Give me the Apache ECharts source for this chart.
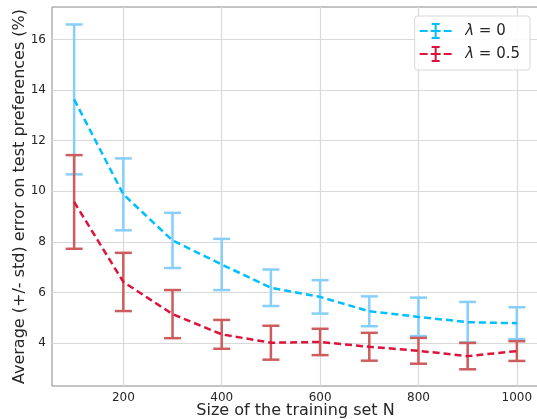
<!DOCTYPE html>
<html>
<head>
<meta charset="utf-8">
<script src="https://cdn.jsdelivr.net/npm/echarts@6/dist/echarts.min.js"></script>
<style>html,body{margin:0;padding:0;background:#fff}#c{width:537px;height:419px}</style>
</head>
<body>
<div id="c"></div>
<script>
const sizes = [100, 200, 300, 400, 500, 600, 700, 800, 900, 1000];
const meanL0 = [13.63, 9.88, 8.06, 7.11, 6.19, 5.83, 5.26, 5.04, 4.83, 4.79];
const stdL0 = [2.96, 1.42, 1.09, 1.01, 0.72, 0.66, 0.59, 0.76, 0.80, 0.63];
const meanL05 = [9.58, 6.42, 5.15, 4.35, 4.02, 4.05, 3.86, 3.70, 3.49, 3.69];
const stdL05 = [1.85, 1.15, 0.95, 0.57, 0.67, 0.52, 0.55, 0.51, 0.52, 0.39];
const xTicks = [200, 400, 600, 800, 1000];
const yTicks = [4, 6, 8, 10, 12, 14, 16];
const names = ['λ = 0', 'λ = 0.5'];

const lineColors = ['#00bfff', '#dc143c'];
const barColors = ['#87cefa', '#cd5c5c'];
const FONT = 'DejaVu Sans';

function errData(means, stds) {
  return sizes.map((x, i) => [x, means[i] - stds[i], means[i] + stds[i]]);
}
function lineData(means) {
  return sizes.map((x, i) => [x, means[i]]);
}
function errSeries(name, data, color) {
  return {
    name: name, type: 'custom', data: data, z: 6,
    encode: { x: 0, y: [1, 2] },
    renderItem: function (params, api) {
      const x = api.value(0), lo = api.value(1), hi = api.value(2);
      const t = api.coord([x, hi]), b = api.coord([x, lo]);
      const h = 8.5;
      const st = { stroke: color, lineWidth: 2.5, fill: null };
      return { type: 'group', children: [
        { type: 'line', shape: { x1: t[0], y1: t[1], x2: b[0], y2: b[1] }, style: st },
        { type: 'line', shape: { x1: t[0] - h, y1: t[1], x2: t[0] + h, y2: t[1] }, style: st },
        { type: 'line', shape: { x1: b[0] - h, y1: b[1], x2: b[0] + h, y2: b[1] }, style: st }
      ]};
    }
  };
}
function lineSeries(name, data, color) {
  return {
    name: name, type: 'line', data: data, z: 7, symbol: 'none',
    lineStyle: { color: color, width: 2.5, type: [7, 4] },
    itemStyle: { color: color }
  };
}
const icon = 'path://M0 7h8v2h-8z M11 7h10v2h-10z M24 7h8v2h-8z M12 0h8v2h-8z M12 14h8v2h-8z M15 0h2v16h-2z';

const gridLines = xTicks.map(v => ({ xAxis: v })).concat(yTicks.map(v => ({ yAxis: v })));

const chart = echarts.init(document.getElementById('c'), null, { renderer: 'canvas' });
chart.setOption({
  animation: false,
  backgroundColor: '#fff',
  grid: { left: 52, right: -2, top: 7, bottom: 33, show: true, borderColor: '#888', borderWidth: 1,
    containLabel: false, outerBoundsMode: 'none' },
  legend: {
    orient: 'vertical', right: 7, top: 16, z: 10,
    padding: [7, 10, 8, 5], itemGap: 7, itemWidth: 33, itemHeight: 16,
    backgroundColor: 'rgba(255,255,255,0.85)', borderColor: '#d8d8d8', borderWidth: 1, borderRadius: 3,
    data: [
      { name: names[0], icon: icon, itemStyle: { color: lineColors[0] } },
      { name: names[1], icon: icon, itemStyle: { color: lineColors[1] } }
    ],
    formatter: function (n) { return '{i|λ}' + n.slice(1); },
    textStyle: { fontFamily: FONT, fontSize: 15, color: '#262626', padding: [0, 0, 0, 8],
      rich: { i: { fontFamily: FONT, fontStyle: 'italic', fontSize: 15, color: '#262626' } } }
  },
  xAxis: {
    type: 'value', min: 55, max: 1045,
    name: 'Size of the training set N', nameLocation: 'middle', nameGap: 17, nameMoveOverlap: false,
    nameTextStyle: { fontFamily: FONT, fontSize: 16, color: '#262626' },
    axisLine: { show: false }, axisTick: { show: false, customValues: xTicks },
    axisLabel: { customValues: xTicks, formatter: v => String(v), fontFamily: FONT, fontSize: 12, color: '#262626', margin: 6 },
    splitLine: { show: false }
  },
  yAxis: {
    type: 'value', min: 2.31, max: 17.28,
    name: 'Average (+/- std) error on test preferences (%)', nameLocation: 'middle', nameGap: 24, nameRotate: 90, nameMoveOverlap: false,
    nameTextStyle: { fontFamily: FONT, fontSize: 16, color: '#262626' },
    axisLine: { show: false }, axisTick: { show: false, customValues: yTicks },
    axisLabel: { customValues: yTicks, formatter: v => String(v), fontFamily: FONT, fontSize: 12, color: '#262626', margin: 6 },
    splitLine: { show: false }
  },
  series: [
    {
      name: 'grid', type: 'line', data: [], z: 1, silent: true,
      markLine: { z: 1, silent: true, symbol: 'none', label: { show: false }, animation: false,
        lineStyle: { color: '#d9d9d9', width: 1.2, type: 'solid' }, data: gridLines }
    },
    lineSeries(names[0], lineData(meanL0), lineColors[0]),
    errSeries(names[0], errData(meanL0, stdL0), barColors[0]),
    lineSeries(names[1], lineData(meanL05), lineColors[1]),
    errSeries(names[1], errData(meanL05, stdL05), barColors[1])
  ]
});
</script>
</body>
</html>
